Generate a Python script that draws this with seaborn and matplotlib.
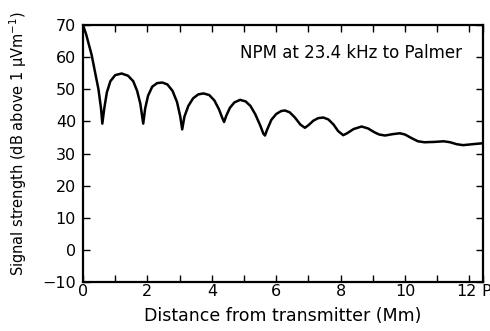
import matplotlib
matplotlib.use("Agg")
import matplotlib.pyplot as plt
import matplotlib.transforms as mtransforms
import seaborn as sns
import pandas as pd
from matplotlib.ticker import MultipleLocator

# Data
distance_mm = [0.0, 0.1, 0.27, 0.4, 0.48, 0.56, 0.60,
               0.66, 0.74, 0.85, 1.0, 1.2, 1.4, 1.56, 1.68, 1.78, 1.87,
               1.93, 2.02, 2.15, 2.3, 2.46, 2.62, 2.78, 2.92, 3.02, 3.08,
               3.15, 3.27, 3.42, 3.58, 3.74, 3.92, 4.08, 4.22, 4.32, 4.38,
               4.45, 4.56, 4.7, 4.88, 5.05, 5.2, 5.35, 5.5, 5.6, 5.65,
               5.72, 5.85, 6.0, 6.15, 6.27, 6.42, 6.58, 6.75, 6.89,
               7.0, 7.15, 7.3, 7.46, 7.62, 7.78, 7.92, 8.08,
               8.2, 8.4, 8.65, 8.85, 9.05, 9.2, 9.38, 9.6, 9.84, 10.0,
               10.2, 10.4, 10.6, 10.9, 11.2, 11.4, 11.6, 11.8, 12.0, 12.2, 12.43]
signal_db = [70.0, 67.0, 60.6, 54.0, 50.0, 44.0, 39.3,
             44.0, 49.0, 52.5, 54.4, 54.9, 54.2, 52.5, 49.5, 45.5, 39.3,
             44.0, 48.0, 50.8, 51.9, 52.1, 51.5, 49.5, 46.0, 41.5, 37.5,
             41.5, 44.8, 47.2, 48.4, 48.7, 48.2, 46.5, 43.8, 41.2, 39.8,
             41.8, 44.2, 45.9, 46.7, 46.2, 44.8, 42.2, 38.8, 36.2, 35.6,
             37.5, 40.5, 42.3, 43.2, 43.4, 42.8, 41.2, 39.0, 38.0,
             38.8, 40.2, 41.0, 41.2, 40.6, 39.0, 37.0, 35.7,
             36.3, 37.6, 38.4, 37.8, 36.6, 35.9, 35.6, 36.0, 36.3, 35.9,
             34.8, 33.8, 33.5, 33.6, 33.8, 33.5, 32.9, 32.6, 32.8, 33.0, 33.2]

x_max = 12.42
x_ticks = [0, 2, 4, 6, 8, 10, 12, x_max]
x_tick_labels = ["0", "2", "4", "6", "8", "10", "12", "P"]
y_ticks = [-10, 0, 10, 20, 30, 40, 50, 60, 70]
y_tick_labels = ["−10", "0", "10", "20", "30", "40", "50", "60", "70"]

sns.set_style("ticks")
plt.rcParams['font.family'] = ['DejaVu Sans']
plt.rcParams['text.color'] = 'black'
plt.rcParams['axes.labelcolor'] = 'black'

df = pd.DataFrame({"d": distance_mm, "s": signal_db})

fig = plt.figure(figsize=(4.9, 3.31), dpi=100)
ax = fig.add_axes([83/490, 1 - 282/331, 400/490, (282 - 25)/331])

sns.lineplot(data=df, x="d", y="s", color="black", linewidth=1.8,
             sort=False, estimator=None, ax=ax)

ax.set_xlim(0, x_max)
ax.set_ylim(-10, 70)
ax.set_xticks(x_ticks)
ax.set_xticklabels(x_tick_labels)
ax.xaxis.set_minor_locator(MultipleLocator(1))
ax.set_yticks(y_ticks)
ax.set_yticklabels(y_tick_labels)

ax.tick_params(axis="both", which="both", direction="in", length=5, width=1.0,
               top=True, right=True, labelsize=11.5, colors="black")
ax.tick_params(axis="x", pad=1.5)
ax.tick_params(axis="y", pad=5)
for sp in ax.spines.values():
    sp.set_linewidth(1.6)
    sp.set_color("black")

# nudge "12" slightly left and "P" slightly right so they read as "12 P"
labels = ax.get_xticklabels()
labels[-2].set_transform(labels[-2].get_transform() +
                         mtransforms.ScaledTranslation(-2/72, 0, fig.dpi_scale_trans))
labels[-1].set_transform(labels[-1].get_transform() +
                         mtransforms.ScaledTranslation(2.5/72, 0, fig.dpi_scale_trans))

ax.set_xlabel("Distance from transmitter (Mm)", fontsize=12.5, labelpad=6)
ax.set_ylabel("Signal strength (dB above 1 μVm$^{-1}$)", fontsize=10.5)
ax.yaxis.set_label_coords(-0.135, 0.54)

ax.text(11.77, 61.3, "NPM at 23.4 kHz to Palmer", fontsize=12,
        ha="right", va="center")

fig.savefig("out.png", dpi=100)
